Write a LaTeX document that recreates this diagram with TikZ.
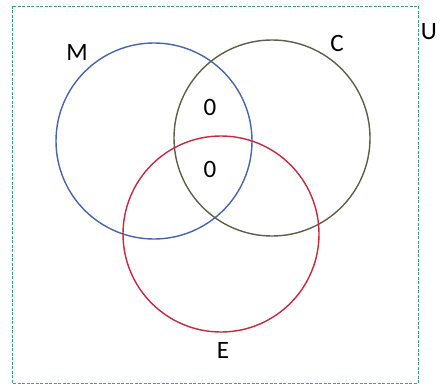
\documentclass[tikz,border=0pt]{standalone}
\usepackage{fontspec}
\setmainfont{Carlito}
\definecolor{setM}{RGB}{72,100,172}
\definecolor{setC}{RGB}{92,96,74}
\definecolor{setE}{RGB}{200,40,62}
\definecolor{univ}{RGB}{60,160,130}
\begin{document}
\begin{tikzpicture}[x=1pt,y=-1pt,font=\fontsize{25}{28}\selectfont]
              \useasboundingbox (0,0) rectangle (446,385);
              % Universal set U
              \draw[univ,line width=0.9pt,dash pattern=on 3pt off 1.5pt] (12,6) rectangle (418,383);
              \node (u) at (429,32) {U};
              % The three sets M, C and E
              \draw[setM,line width=1.4pt] (154,141) circle (98);
              \draw[setC,line width=1.4pt] (272,138) circle (98);
              \draw[setE,line width=1.4pt] (221,234) circle (98);
              \node (m) at (77,52) {M};
              \node (c) at (337,43) {C};
              \node (e) at (223,350) {E};
              % Counts in the overlaps
              \node (mc) at (210,107) {0};
              \node (mce) at (210,169) {0};
            \end{tikzpicture}
\end{document}
